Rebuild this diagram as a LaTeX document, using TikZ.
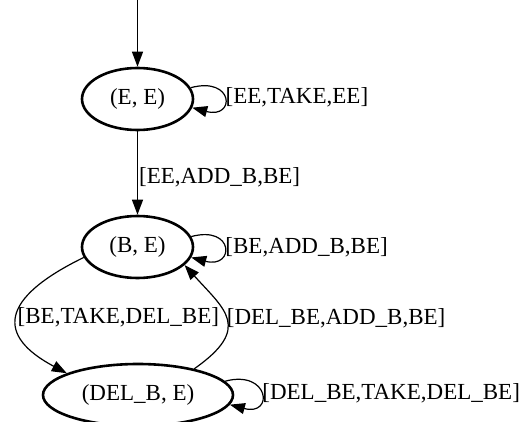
\documentclass[tikz,border=0pt]{standalone}
\usepackage{fontspec}
\setmainfont{Liberation Serif}
\usetikzlibrary{shapes.geometric,arrows.meta}
\tikzset{
  state/.style={ellipse,draw,line width=2.6bp,inner sep=0pt,minimum height=62bp},
  trans/.style={-{Triangle[length=15bp,width=11bp]},line width=1.2bp},
  lbl/.style={right,midway,inner sep=1bp}
}
\begin{document}
\begin{tikzpicture}[x=1bp,y=1bp,trans,font=\fontsize{23bp}{28bp}\selectfont]
\useasboundingbox (0,0) rectangle (528,421);
\coordinate (S) at (137.5,421);
\node[state,minimum width=111bp] (EE) at (137.5,322) {(E, E)};
\node[state,minimum width=111bp] (BE) at (137.5,174) {(B, E)};
\node[state,minimum width=190bp] (DB) at (138,26) {(DEL\_B, E)};
\path
  (S) edge (EE)
  (EE) edge node [lbl,pos=0.55] {[EE,ADD\_B,BE]} (BE)
  (EE.12) edge [out=15,in=-15,distance=45bp] node [lbl] {[EE,TAKE,EE]} (EE.-9)
  (BE.11) edge [out=15,in=-15,distance=45bp] node [lbl] {[BE,ADD\_B,BE]} (BE.-11)
  (DB.9) edge [out=15,in=-15,distance=46bp] node [lbl] {[DEL\_BE,TAKE,DEL\_BE]} (DB.-6)
  (BE.191) edge [out=206,in=152,out distance=95bp,in distance=79bp]
    node [lbl,inner sep=0pt] {[BE,TAKE,DEL\_BE]} (DB.163)
  (DB.25) edge [out=35,in=-48,out distance=71bp,in distance=60bp]
    node [lbl,inner sep=0pt] {[DEL\_BE,ADD\_B,BE]} (BE.-21)
;
\end{tikzpicture}
\end{document}
